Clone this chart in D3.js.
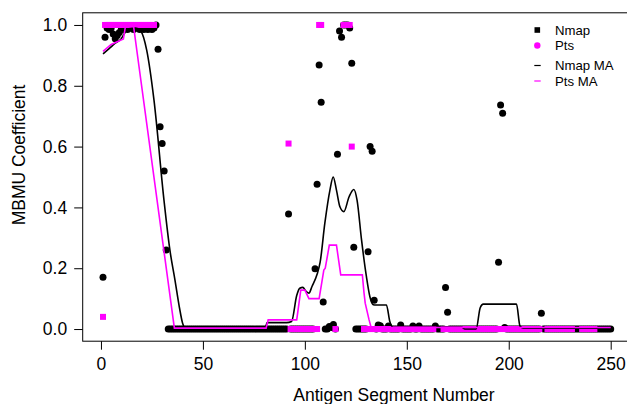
<!DOCTYPE html>
<html>
<head>
<meta charset="utf-8">
<script src="https://cdn.jsdelivr.net/npm/d3@7"></script>
<style>
  body { margin: 0; background: #fff; }
  svg { display: block; }
  text { font-family: "Liberation Sans", Arial, Helvetica, sans-serif; }
</style>
</head>
<body>
<div id="chart"></div>
<script>

// mbmu coefficient per antigen segment (1..250)
var nmap = [
  0.17, 0.96, 0.99, 0.985, 0.99, 0.97, 0.955, 0.965, 0.975, 0.99,
  0.985, 0.99, 0.985, 0.99, 0.99, 0.985, 0.99, 0.99, 0.985, 0.99,
  0.985, 0.99, 0.985, 0.99, 0.985, 0.99, 1.0, 0.92, 0.665, 0.61,
  0.52, 0.26, 0, 0, 0, 0, 0, 0, 0, 0,
  0, 0, 0, 0, 0, 0, 0, 0, 0, 0,
  0, 0, 0, 0, 0, 0, 0, 0, 0, 0,
  0, 0, 0, 0, 0, 0, 0, 0, 0, 0,
  0, 0, 0, 0, 0, 0, 0, 0, 0, 0,
  0, 0, 0, 0, 0, 0, 0, 0, 0, 0,
  0, 0.378, 0, 0, 0, 0, 0, 0, 0, 0,
  0, 0, 0, 0, 0.198, 0.476, 0.868, 0.746, 0.089, 0,
  0, 0.008, 0.005, 0.015, 0, 0.575, 0.98, 0.96, 1.0, 1.0,
  1.0, 0.99, 0.874, 0.269, 0, 0, 0, 0, 0, 0,
  0.254, 0.60, 0.585, 0.095, 0, 0.013, 0.011, 0, 0, 0,
  0.01, 0, 0, 0, 0, 0, 0.013, 0, 0, 0,
  0, 0, 0.01, 0, 0, 0.01, 0, 0, 0, 0,
  0, 0, 0, 0.01, 0, 0, 0, 0, 0.137, 0.055,
  0, 0, 0, 0, 0, 0, 0, 0, 0, 0,
  0, 0, 0, 0, 0, 0, 0, 0, 0, 0,
  0, 0, 0, 0, 0.22, 0.737, 0.71, 0.005, 0, 0,
  0, 0, 0, 0, 0, 0, 0, 0, 0, 0,
  0, 0, 0, 0, 0, 0.052, 0, 0, 0, 0,
  0, 0, 0, 0, 0, 0, 0, 0, 0, 0,
  0, 0, 0, 0, 0, 0, 0, 0, 0, 0,
  0, 0, 0, 0, 0, 0, 0, 0, 0, 0
];

var n = null;
var pts = [
  0.04, 1, 1, 1, 1, 1, 1, 1, 1, 1,
  1, 1, 1, 1, 1, 1, 1, 1, 1, 1,
  1, 1, 1, 1, 1, 1, n, n, n, n,
  n, n, n, n, n, n, n, n, n, n,
  n, n, n, n, n, n, n, n, n, n,
  n, n, n, n, n, n, n, n, n, n,
  n, n, n, n, n, n, n, n, n, n,
  n, n, n, n, n, n, n, n, n, n,
  n, n, n, n, n, n, n, n, n, n,
  n, 0.61, 0, 0, 0, 0, 0, 0, 0, 0,
  0, 0, 0, 0, 0, 0, 1, 1, n, n,
  n, n, n, n, 0, n, n, n, 1, 1,
  1, 1, 0.6, n, n, n, n, n, 0, 0,
  0, 0, 0, 0, 0, 0, 0, 0, 0, 0,
  0, 0, 0, 0, 0, 0, 0, 0, 0, 0,
  0, 0, 0, 0, 0, n, 0, 0, 0, 0,
  0, 0, 0, n, n, n, n, 0, 0, 0,
  0, 0, 0, 0, 0, 0, 0, 0, n, 0,
  0, 0, 0, 0, 0, 0, 0, 0, 0, 0,
  0, 0, 0, 0, 0, 0, 0, 0, 0, 0,
  0, 0, n, 0, 0, 0, n, 0, 0, 0,
  0, 0, 0, 0, 0, n, n, n, 0, 0,
  0, 0, 0, 0, 0, 0, n, 0, 0, 0,
  0, n, n, n, n, 0, 0, 0, 0, 0,
  0, 0, n, n, n, n, n, n, n, n
];

// moving average lines, knots (segment, value)
var nmapMaSeg = [1, 4, 7, 10, 11.5, 13, 17, 19.5, 22.4, 26, 30.9, 33.8, 36.3, 38.5, 40, 41.5,
  80.5, 81.5, 91, 93.5, 96, 97.5, 99, 100.5, 102, 103.5, 106, 107.5, 109.8, 112.3, 113.9,
  115.5, 117.2, 119.1, 121.7, 124, 125.6, 127.8, 130.2, 131.9, 133.5, 135, 140, 141.7, 143.3,
  177, 178.5, 184, 186, 187.5, 203.8, 205.5, 207, 250];
var nmapMaVal = [0.905, 0.922, 0.94, 0.955, 0.972, 0.987, 0.99, 0.98, 0.918, 0.753, 0.424, 0.26, 0.161, 0.07, 0.02, 0.003,
  0.003, 0.021, 0.021, 0.025, 0.11, 0.134, 0.137, 0.125, 0.118, 0.14, 0.18, 0.22, 0.348, 0.457, 0.5,
  0.457, 0.402, 0.386, 0.435, 0.459, 0.424, 0.293, 0.172, 0.106, 0.08, 0.079, 0.079, 0.024, 0.006,
  0.006, 0.0, 0.0, 0.07, 0.082, 0.082, 0.01, 0.003, 0.003];

var ptsMaSeg = [1, 5, 11, 12, 16, 36, 81, 82, 96, 98, 100, 102, 107, 109.3, 110, 112, 115.5,
  117.6, 128.2, 129, 129.6, 131.5, 132.5, 250];
var ptsMaVal = [0.913, 0.936, 0.954, 0.995, 0.995, 0.003, 0.003, 0.03, 0.03, 0.128, 0.128, 0.10, 0.10, 0.194, 0.2, 0.276, 0.276,
  0.178, 0.178, 0.12, 0.085, 0.03, 0.005, 0.005];

var xTicks = [0, 50, 100, 150, 200, 250];
var yTicks = [0, 0.2, 0.4, 0.6, 0.8, 1.0];
var legendNames = ["Nmap", "Pts", "Nmap MA", "Pts MA"];

// setup svg
var W = 627, H = 404;
var svg = d3.select("#chart").append("svg")
    .attr("width", W)
    .attr("height", H);

// R style plot region, padded 4% on each side (right side runs off the picture)
var x = d3.scaleLinear().domain([-8.96, 259.96]).range([82.7, 631]);
var y = d3.scaleLinear().domain([-0.04, 1.04]).range([341.2, 12.8]);

var fontSize = "17.5px";

// box
svg.append("rect")
    .attr("x", x.range()[0])
    .attr("y", y.range()[1])
    .attr("width", x.range()[1] - x.range()[0])
    .attr("height", y.range()[0] - y.range()[1])
    .attr("fill", "none")
    .attr("stroke", "#000")
    .attr("stroke-width", 1);

// axes
var yAxis = svg.append("g")
    .attr("transform", "translate(" + x.range()[0] + ",0)")
    .call(d3.axisLeft(y).tickValues(yTicks).tickFormat(d3.format(".1f")).tickSize(8.5).tickPadding(7));
var xAxis = svg.append("g")
    .attr("transform", "translate(0," + y.range()[0] + ")")
    .call(d3.axisBottom(x).tickValues(xTicks).tickFormat(d3.format("d")).tickSize(8.5).tickPadding(7.6));

[xAxis, yAxis].forEach(function(a) {
  a.select(".domain").remove();
  a.selectAll("text").style("font-size", fontSize).attr("fill", "#000")
    .style("font-family", "'Liberation Sans', Arial, Helvetica, sans-serif");
  a.selectAll("line").attr("stroke", "#000");
});

// axis titles
svg.append("text")
    .attr("x", 394)
    .attr("y", 401)
    .attr("text-anchor", "middle")
    .style("font-size", fontSize)
    .text("Antigen Segment Number");

svg.append("text")
    .attr("transform", "translate(25,155) rotate(-90)")
    .attr("text-anchor", "middle")
    .style("font-size", fontSize)
    .text("MBMU Coefficient");

// points: nmap circles first, pts squares on top
var segs = d3.range(1, 251);

svg.append("g").selectAll("circle")
    .data(segs.filter(function(s) { return nmap[s - 1] !== null; }))
    .enter().append("circle")
    .attr("cx", function(s) { return x(s); })
    .attr("cy", function(s) { return y(nmap[s - 1]); })
    .attr("r", 3.5)
    .attr("fill", "#000");

var sq = 6;
svg.append("g").selectAll("rect")
    .data(segs.filter(function(s) { return pts[s - 1] !== null; }))
    .enter().append("rect")
    .attr("x", function(s) { return x(s) - sq / 2; })
    .attr("y", function(s) { return y(pts[s - 1]) - sq / 2; })
    .attr("width", sq)
    .attr("height", sq)
    .attr("fill", "#ff00ff");

// moving averages
var nmapLine = d3.line()
    .x(function(d, i) { return x(nmapMaSeg[i]); })
    .y(function(d) { return y(d); })
    .curve(d3.curveMonotoneX);

var ptsLine = d3.line()
    .x(function(d, i) { return x(ptsMaSeg[i]); })
    .y(function(d) { return y(d); });

svg.append("path")
    .attr("d", nmapLine(nmapMaVal))
    .attr("fill", "none")
    .attr("stroke", "#000")
    .attr("stroke-width", 1.6);

svg.append("path")
    .attr("d", ptsLine(ptsMaVal))
    .attr("fill", "none")
    .attr("stroke", "#ff00ff")
    .attr("stroke-width", 1.6);

// legend (tight like the original, font kept small so rows don't collide)
var legY = [30, 45.5, 65.5, 81];
var legend = svg.append("g");

legend.append("rect")
    .attr("x", 534.5).attr("y", legY[0] - 2.8)
    .attr("width", 5.6).attr("height", 5.6)
    .attr("fill", "#000");
legend.append("circle")
    .attr("cx", 537.3).attr("cy", legY[1])
    .attr("r", 3.2)
    .attr("fill", "#ff00ff");
legend.append("line")
    .attr("x1", 534.3).attr("x2", 540.7)
    .attr("y1", legY[2]).attr("y2", legY[2])
    .attr("stroke", "#000").attr("stroke-width", 1.2);
legend.append("line")
    .attr("x1", 534.3).attr("x2", 540.7)
    .attr("y1", legY[3]).attr("y2", legY[3])
    .attr("stroke", "#ff00ff").attr("stroke-width", 1.2);

legend.selectAll("text.leg")
    .data(legendNames)
    .enter().append("text")
    .attr("class", "leg")
    .attr("x", 555)
    .attr("y", function(d, i) { return legY[i]; })
    .attr("dy", "0.36em")
    .style("font-size", "13.2px")
    .text(function(d) { return d; });

</script>
</body>
</html>
